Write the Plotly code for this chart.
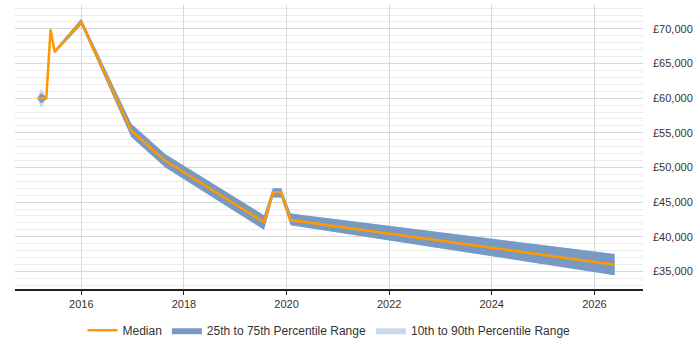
import plotly.graph_objects as go

dates = ["2015-02-25", "2015-03-21", "2015-04-27", "2015-05-27", "2015-06-25",
         "2016-01-01", "2016-12-22", "2017-08-22", "2019-07-25", "2019-09-26",
         "2019-11-24", "2020-01-30", "2026-05-25"]
median = [60000, 60000, 60000, 69900, 66700, 71000, 55300, 50950, 42100, 46400, 46400, 42400, 35950]
p25 = [59850, 59300, 59850, 69650, 66450, 70550, 54400, 50000, 41000, 45650, 45650, 41650, 34450]
p75 = [60150, 60700, 60150, 70150, 66950, 71450, 56300, 51900, 43100, 47000, 47000, 43350, 37500]
p10 = [59850, 58600, 59850, 69650, 66450, 70550, 54400, 50000, 41000, 45650, 45650, 41650, 34450]
p90 = [60150, 61400, 60150, 70150, 66950, 71450, 56300, 51900, 43100, 47000, 47000, 43350, 37500]

y_ticks = [35000, 40000, 45000, 50000, 55000, 60000, 65000, 70000]
y_labels = ["£35,000", "£40,000", "£45,000", "£50,000", "£55,000", "£60,000", "£65,000", "£70,000"]
x_ticks = ["2016-01-01", "2018-01-01", "2020-01-01", "2022-01-01", "2024-01-01", "2026-01-01"]
x_labels = ["2016", "2018", "2020", "2022", "2024", "2026"]

fig = go.Figure()
fig.add_trace(go.Scatter(x=dates, y=p10, mode="lines", line=dict(width=0),
                         showlegend=False, hoverinfo="skip"))
fig.add_trace(go.Scatter(x=dates, y=p90, mode="lines", line=dict(width=0),
                         fill="tonexty", fillcolor="#c9daee",
                         name="10th to 90th Percentile Range", legendrank=3, hoverinfo="skip"))
fig.add_trace(go.Scatter(x=dates, y=p25, mode="lines", line=dict(width=0),
                         showlegend=False, hoverinfo="skip"))
fig.add_trace(go.Scatter(x=dates, y=p75, mode="lines", line=dict(width=0),
                         fill="tonexty", fillcolor="#7799c2",
                         name="25th to 75th Percentile Range", legendrank=2, hoverinfo="skip"))
fig.add_trace(go.Scatter(x=dates, y=median, mode="lines",
                         line=dict(color="#ff9900", width=2.5),
                         name="Median", legendrank=1))

fig.update_layout(
    width=700, height=350,
    margin=dict(l=15, r=57, t=5, b=57),
    paper_bgcolor="white", plot_bgcolor="white",
    font=dict(family="Liberation Sans, Arial, sans-serif", size=11, color="#333"),
    showlegend=True,
    legend=dict(orientation="h", x=0.5, xanchor="center", y=-0.145, yanchor="middle",
                font=dict(size=12, color="#333"), itemwidth=30, traceorder="normal"),
    xaxis=dict(
        type="date", range=["2014-09-16", "2026-12-13"],
        tickvals=x_ticks, ticktext=x_labels,
        showgrid=True, gridcolor="#d8d8d8", gridwidth=1,
        showline=True, linecolor="#222", linewidth=1.5,
        ticks="outside", ticklen=4, tickcolor="#222",
        zeroline=False,
    ),
    yaxis=dict(
        range=[32450, 73450], side="right",
        tickvals=y_ticks, ticktext=y_labels,
        showgrid=True, gridcolor="#d8d8d8", gridwidth=1,
        minor=dict(dtick=1000, showgrid=True, gridcolor="#ececec", gridwidth=1),
        showline=False, zeroline=False, ticks="", ticklabelstandoff=9,
    ),
)

fig.write_html("out.html")
